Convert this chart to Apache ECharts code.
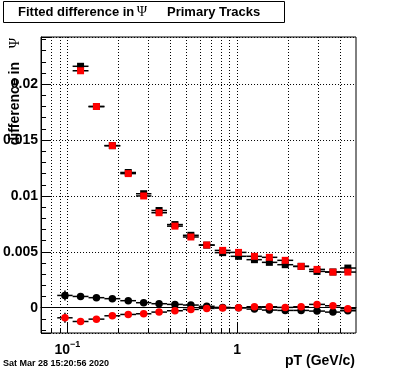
<!DOCTYPE html>
<html><head><meta charset="utf-8">
<script src="https://cdn.jsdelivr.net/npm/echarts@6/dist/echarts.min.js"></script>
<style>html,body{margin:0;padding:0;background:#fff}#c{width:396px;height:372px}</style>
</head><body><div id="c"></div>
<script>
// ---- data ----
const binEdges = [0.0872, 0.1074, 0.1332, 0.1652, 0.2049, 0.2536, 0.3124, 0.3860, 0.4787, 0.5938,
                  0.7367, 0.9138, 1.1334, 1.3964, 1.7208, 2.1343, 2.6475, 3.2846, 4.0458, 5.0];
const binCenters = [0.0968, 0.1196, 0.1483, 0.1840, 0.2283, 0.2813, 0.3466, 0.4298, 0.5333, 0.6615,
                    0.8204, 1.0176, 1.2624, 1.5452, 1.9163, 2.3768, 2.9485, 3.6580, 4.4770];
const blackSquare = [null, 0.0216, 0.0180, 0.0145, 0.0121, 0.0102, 0.0087, 0.00744, 0.00648, 0.0056,
                     0.00493, 0.0046, 0.0043, 0.00406, 0.00385, 0.0037, 0.00325, 0.0032, 0.00355];
const redSquare = [null, 0.0212, 0.0180, 0.0145, 0.0120, 0.0100, 0.0085, 0.0073, 0.00633, 0.00561,
                   0.00513, 0.00495, 0.0046, 0.00451, 0.00424, 0.0037, 0.00343, 0.00319, 0.00319];
const blackCircle = [0.0011, 0.00101, 0.0009, 0.00081, 0.00063, 0.00045, 0.00036, 0.0003, 0.00024, 0.00013,
                     0.00003, 0.0, -0.00012, -0.00021, -0.00024, -0.00024, -0.0003, -0.00039, -0.00027];
const redCircle = [-0.0009, -0.00123, -0.00102, -0.00072, -0.0006, -0.00054, -0.00039, -0.00027, -0.00015, -0.00006,
                   -0.00003, 0.0, 0.00009, 0.00009, 0.00003, 0.00009, 0.0003, 0.00018, -0.00009];
const squareErr = [0, 0.00015, 0.00012, 0.0001, 0.0001, 0.0001, 0.0001, 0.0001, 0.0001, 0.0001,
                   0.0001, 0.0001, 0.0001, 0.0001, 0.0001, 0.0001, 0.0001, 0.0001, 0.0001];
const circleErr = [0.00045, 0.00025, 0.0002, 0.0002, 0.0002, 0.0002, 0.0002, 0.0002, 0.0002, 0.0002,
                   0.0002, 0.0002, 0.0002, 0.0002, 0.0002, 0.0002, 0.0002, 0.0002, 0.0002];
const xGridValues = [0.08, 0.09, 0.1, 0.2, 0.3, 0.4, 0.5, 0.6, 0.7, 0.8, 0.9, 1, 2, 3, 4];
const xMajorValues = [0.1, 1];
const yTickValues = [0, 0.005, 0.01, 0.015, 0.02];
const yTickLabels = ['0', '0.005', '0.01', '0.015', '0.02'];
const titleText = 'Fitted difference in';
const titleText2 = 'Primary Tracks';
const yTitle = 'difference in';
const xTitle = 'pT (GeV/c)';
const dateText = 'Sat Mar 28 15:20:56 2020';

const FONT = '"Liberation Sans", Arial, Helvetica, sans-serif';
const SERIF = '"Liberation Serif", "DejaVu Serif", serif';
const chart = echarts.init(document.getElementById('c'), null, {renderer: 'canvas'});

function errRows(vals, errs) {
  const rows = [];
  vals.forEach((v, i) => {
    if (v === null) return;
    rows.push([binCenters[i], v, binEdges[i], binEdges[i + 1], errs[i]]);
  });
  return rows;
}
function pts(vals) {
  const rows = [];
  vals.forEach((v, i) => { if (v !== null) rows.push([binCenters[i], v]); });
  return rows;
}
function errRender(params, api) {
  const c = api.coord([api.value(0), api.value(1)]);
  const lo = api.coord([api.value(2), api.value(1)]);
  const hi = api.coord([api.value(3), api.value(1)]);
  const t = api.coord([api.value(0), api.value(1) + api.value(4)]);
  const b = api.coord([api.value(0), api.value(1) - api.value(4)]);
  const st = {stroke: '#000', lineWidth: 1.5};
  return {type: 'group', children: [
    {type: 'line', shape: {x1: lo[0], y1: c[1], x2: hi[0], y2: c[1]}, style: st},
    {type: 'line', shape: {x1: c[0], y1: t[1], x2: c[0], y2: b[1]}, style: st}
  ]};
}
function errSeries(vals, errs) {
  return {type: 'custom', renderItem: errRender, data: errRows(vals, errs),
          encode: {x: 0, y: 1}, silent: true, clip: true};
}
function markSeries(vals, sym, size, color) {
  return {type: 'scatter', data: pts(vals), symbol: sym, symbolSize: size,
          itemStyle: {color: color, opacity: 1}, silent: true};
}

const option = {
  animation: false,
  backgroundColor: '#fff',
  grid: {left: 39, top: 37, width: 317, height: 296, show: true, borderColor: '#000', borderWidth: 1, backgroundColor: '#fff'},
  xAxis: {
    type: 'log', logBase: 10, min: 0.07, max: 5,
    axisLine: {show: true, lineStyle: {color: '#000', width: 1}},
    axisTick: {show: false}, splitLine: {show: false},
    axisLabel: {
      margin: 9, color: '#000',
      showMinLabel: false, showMaxLabel: false,
      formatter: v => Math.abs(v - xMajorValues[0]) < 1e-6 ? '{n|10}{s|\u22121}' : (Math.abs(v - xMajorValues[1]) < 1e-6 ? '{n|1}' : ''),
      rich: {
        n: {fontFamily: FONT, fontWeight: 'bold', fontSize: 14, color: '#000', verticalAlign: 'bottom', lineHeight: 15},
        s: {fontFamily: FONT, fontWeight: 'bold', fontSize: 9, color: '#000', verticalAlign: 'bottom', lineHeight: 10, padding: [0, 0, 8, 0]}
      }
    }
  },
  yAxis: [{
    type: 'value', min: -0.00226, max: 0.02422, minInterval: 0.005, maxInterval: 0.005,
    axisLine: {show: true, lineStyle: {color: '#000', width: 1}},
    axisTick: {show: true, inside: true, length: 9, lineStyle: {color: '#000', width: 1}},
    splitLine: {show: true, lineStyle: {color: '#000', width: 1, type: [1, 2]}},
    axisLabel: {
      margin: 3, color: '#000', fontFamily: FONT, fontWeight: 'bold', fontSize: 14,
      formatter: v => {
        for (let i = 0; i < yTickValues.length; i++) if (Math.abs(v - yTickValues[i]) < 1e-9) return yTickLabels[i];
        return '';
      }
    }
  }, {
    type: 'value', min: -0.00226, max: 0.02422, minInterval: 0.001, maxInterval: 0.001, position: 'left',
    axisLine: {show: false}, axisLabel: {show: false}, splitLine: {show: false},
    axisTick: {show: true, inside: true, length: 5, lineStyle: {color: '#000', width: 1}}
  }],
  series: [
    {
      type: 'custom', silent: true, clip: false,
      data: xGridValues.map(v => [v, 0]),
      encode: {x: 0, y: 1},
      renderItem: (params, api) => {
        const cs = params.coordSys;
        const v = api.value(0);
        const x = Math.round(api.coord([v, 0])[0]) + 0.5;
        const top = cs.y, bottom = cs.y + cs.height;
        const major = xMajorValues.some(m => Math.abs(m - v) < 1e-9);
        return {type: 'group', children: [
          {type: 'line', shape: {x1: x, y1: top, x2: x, y2: bottom}, style: {stroke: '#000', lineWidth: 1, lineDash: [1, 2]}},
          {type: 'line', shape: {x1: x, y1: bottom, x2: x, y2: bottom - (major ? 10 : 5)}, style: {stroke: '#000', lineWidth: 1}}
        ]};
      }
    },
    errSeries(blackSquare, squareErr),
    markSeries(blackSquare, 'rect', 7, '#000'),
    errSeries(redSquare, squareErr),
    markSeries(redSquare, 'rect', 7, '#ff0000'),
    errSeries(blackCircle, circleErr),
    markSeries(blackCircle, 'circle', 7.5, '#000'),
    errSeries(redCircle, circleErr),
    markSeries(redCircle, 'circle', 7.5, '#ff0000')
  ],
  graphic: [
    {type: 'rect', left: 3, top: 1, shape: {width: 281, height: 21}, style: {fill: '#fff', stroke: '#000', lineWidth: 1}, z: 100},
    {type: 'text', x: 18, y: 12, z: 101, style: {text: titleText, font: 'bold 13px ' + FONT, fill: '#000', align: 'left', verticalAlign: 'middle'}},
    {type: 'text', x: 142, y: 12, z: 101, style: {text: '\u03A8', font: '14px ' + SERIF, fill: '#000', align: 'center', verticalAlign: 'middle'}},
    {type: 'text', x: 167, y: 12, z: 101, style: {text: titleText2, font: 'bold 13px ' + FONT, fill: '#000', align: 'left', verticalAlign: 'middle'}},
    {type: 'text', x: 15, y: 62, rotation: Math.PI / 2, z: 101, style: {text: yTitle, font: 'bold 14px ' + FONT, fill: '#000', align: 'right', verticalAlign: 'middle'}},
    {type: 'text', x: 15, y: 38, rotation: Math.PI / 2, z: 101, style: {text: '\u03A8', font: '14px ' + SERIF, fill: '#000', align: 'right', verticalAlign: 'middle'}},
    {type: 'text', x: 355, y: 361, z: 101, style: {text: xTitle, font: 'bold 14px ' + FONT, fill: '#000', align: 'right', verticalAlign: 'middle'}},
    {type: 'text', x: 3, y: 364, z: 101, style: {text: dateText, font: 'bold 9px ' + FONT, fill: '#000', align: 'left', verticalAlign: 'middle'}}
  ]
};
chart.setOption(option);
</script>
</body></html>
